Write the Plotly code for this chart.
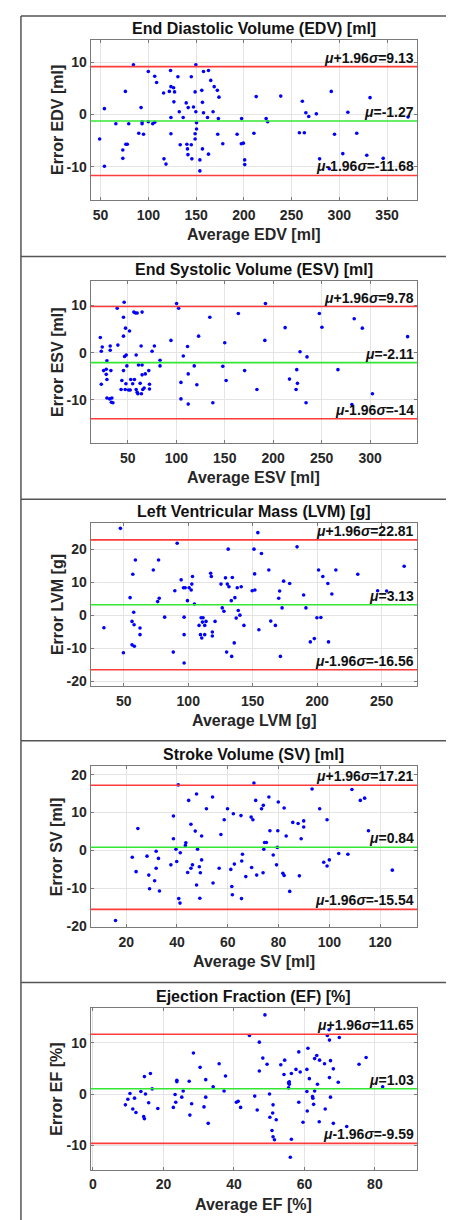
import plotly.graph_objects as go

W, H = 454, 1220

# ---------------- data ----------------
panel_titles = ["End Diastolic Volume (EDV) [ml]", "End Systolic Volume (ESV) [ml]",
                "Left Ventricular Mass (LVM) [g]", "Stroke Volume (SV) [ml]",
                "Ejection Fraction (EF) [%]"]
x_titles = ["Average EDV [ml]", "Average ESV [ml]", "Average LVM [g]", "Average SV [ml]", "Average EF [%]"]
y_titles = ["Error EDV [ml]", "Error ESV [ml]", "Error LVM [g]", "Error SV [ml]", "Error EF [%]"]

edv_avg = [49, 54, 54, 66, 73.3, 73.3, 76, 76.5, 78, 79.5, 84.4, 90, 92.4, 93.5, 93.5, 95, 100, 100,
           104.6, 106.7, 106.7, 108.7, 116, 116.4, 118.5, 122, 123.3, 123.7, 123.7, 123.7, 126.5, 127.5,
           126.8, 131, 132.4, 133.4, 136.5, 139.7, 140.4, 141.8, 141, 141.5, 145, 145, 145.6, 147.3, 149,
           149, 149, 149.8, 149.8, 150.5, 150.5, 154, 154, 156, 156.7, 156.7, 157.8, 157.8, 162, 163, 163,
           165.4, 167.8, 169, 172.3, 172.7, 173.4, 174, 178, 193, 197.4, 199.5, 197.7, 200.9, 201, 210.6,
           213, 223.4, 225, 238.7, 258.2, 263.4, 261.3, 265, 268, 276, 279.4, 289.5, 291.6, 295, 303.7,
           309, 318.3, 328.8, 332.2, 346, 372]
edv_err = [-4.7, 1.1, -9.9, -1.8, -6.8, -8.4, 4.4, -5.7, -5.7, -1.8, 9.5, -3.6, 1.3, -1.4, -1.8, -3.8, 8.2, -1.4,
           -1.8, -1.5, 7.3, 6.1, 4.1, -8.5, -9.5, 4.4, 8.4, 5.3, -0.6, -3.7, 5.1, 4.3,
           2.4, 7.2, 0.5, -5.8, -0.6, 2.2, -5.7, 1.3, -6.6, -7.7, 7.2, -5.8, -8.5, 1.4, 4.3,
           -4.7, -3.7, 9.5, 0.5, -1.6, -2.8, -10.8, -8.7, 4.6, 2.3, -6.6, 8.2, 0.3, -0.6, -7.6, 8.4,
           6.5, 0.5, 5.3, 4.6, -3.8, -0.8, 3.3, -5.6, -3.8, -5.6, -5.5, -0.8, -8.7, -9.6, -3.6,
           3.4, -0.8, -1.4, 3.5, -3.5, -3.5, 2.5, 0.3, -0.4, 0.1, -8.5, -10.4, 4.4, -3.8, -7.5,
           0.4, -3.6, -7.8, 3.2, -8.4, -0.5]
edv_limits = [9.13, -1.27, -11.68]

esv_avg = [21.6, 22.6, 23.6, 22.6, 25, 27.7, 27.7, 28.4, 28.4, 28.4, 31.2, 31.8, 31.8, 32.5, 33, 34.6, 33.5,
           39, 39.7, 43, 43.8, 45.5, 45.5, 45.5, 46.2, 46.6, 48.3, 47.3, 48, 47.6, 49, 51.7, 50.7, 52.4, 53,
           55, 56.2, 57.9, 59.6, 56.8, 58.6, 58.6, 59.6, 60.3, 61, 62.7, 63.7, 64, 64.7, 64.7, 64.7, 65.4,
           66.8, 68, 71.6, 72.3, 72.3, 75, 77.4, 83.2, 83.2, 94.5, 100.3, 102.4, 104.8, 104.8, 107.2, 111.6,
           112.3, 112.3, 118.5, 121.2, 123, 134.6, 137.7, 148, 150, 151.4, 164, 170.5, 183.2, 191.4, 192,
           212.3, 216.8, 223.6, 224.3, 225, 227.7, 233.9, 234.9, 247.6, 250.3, 266.8, 281.2, 283.6, 292,
           302.4, 338.7]
esv_err = [3.2, 0.3, 1.2, -6.7, -3.8, -3.5, -4.6, -5.7, -1.7, -9.6, -9.8, 1.4, 0.5, -3.8, -10.5, -10.6, -9.6,
           9.4, 1.6, -7.8, -5.9, 7.5, 3.5, -3.8, 10.7, -0.8, -0.5, -7.8, -6.6, 5.2, -2.8, 4.6, -7.9, -7.9, -5.7,
           -6.6, 8.6, 8.4, 8.4, -5.7, -0.5, -7.8, -8.4, -8.7, -2.6, -6.5, 1.4, -8.7, 8.6, -2.6, -4.7, -7.8,
           -7.5, -4.5, -3.8, -6.7, -7.7, 0.3, 1.4, -1.6, -2.8, 2.6, 10.4, 9.4, -6.3, -9.8, -0.7, 1.3,
           -4.5, -10.9, -2.8, -6.8, 3.5, 7.5, -10.6, -2.9, 2.1, -5.9, 8.3, -3.8, -7.8, 2.6, 10.4,
           5.3, -5.6, -7.8, -3.6, -6.5, 0.2, -10.6, -0.9, 8.3, 5.4, -3.6, -11, 7.2, 5.2,
           -8.7, 3.4]
esv_limits = [9.78, -2.11, -14]

lvm_avg = [34.6, 47.4, 49.7, 54.9, 56.4, 58.2, 58, 56.4, 57, 57.7, 59, 62.6, 62.6, 72.9, 76.3, 77.5, 77, 81.7,
           88.4, 89.6, 91.4, 94.5, 96.3, 97.6, 96.8, 96.8, 96.8, 99.4, 100.7, 102.3, 102.8, 103.3, 104.8,
           108.4, 109.5, 110.5, 110, 111.5, 111, 112.8, 112.8, 113.8, 117.4, 117.9, 118.7, 118.7, 120.8,
           125.4, 126.4, 127.7, 128.9, 129.8, 130.3, 131.6, 131, 133.4, 133.7, 134.2, 135.7, 136.2, 137.2,
           138, 138.8, 140.1, 141.1, 143.2, 149.6, 151, 151.5, 151.7, 154, 154.8, 156.8, 162.5, 164, 167.6,
           170.2, 170.9, 171.5, 172.8, 174, 178.7, 184.4, 189.5, 191.3, 194.7, 197.8, 199.8, 201.1, 202.9,
           204.4, 208.3, 208.8, 211.4, 214.5, 231.5, 246.9, 253.9, 267.5]
lvm_err = [-3.8, 26.3, -11.4, 5.3, -9, -9.4, -2.9, -1.9, 12.4, 0.9, 16.7, -3.9, -5.9, 13.7, 4.1, 5.1, 16.7, -0.6,
           -11.2, 7.4, 21.8, 10.7, 8.3, 8.3, -0.6, -5.9, -14.5, 4.4, 8.3, 7.6, 9.4, 11.7, 3.4,
           -3.1, -5.9, -6.9, -0.8, -0.8, -2.1, -3.1, -5.9, -1.9, 12.7, 11.7, -5.1, -6.3, -1.9,
           9.4, 2.2, 1.2, 11.3, -11.2, 9.4, 8.6, 20, 4.4, -12.5, 11.4, -8.4, 5.3, -0.9,
           8.3, 1.4, 0, 8.6, -3.1, 7.4, 20, 12.5, 7.6, 25, -4.4, 18.7, 13.7, -1.8, -3.1,
           5.1, 7.3, -12.5, 2.2, 10.3, 9.6, 20.7, 6.1, 2.2, -8.1, -7.1, -0.8, 13.7, -0.7,
           11.7, 9.6, -8.1, 6.4, 13.7, 12.4, 7.4, 7.3, 14.8]
lvm_limits = [22.81, 3.13, -16.56]

sv_avg = [15.8, 22.4, 23.9, 24.6, 28.2, 28.9, 29.2, 31.2, 31.8, 31.8, 32.7, 33.1, 37.6, 38.6, 38.6, 39.6, 39.9,
          40.5, 40.7, 41.2, 41.3, 43.3, 43.5, 44.2, 44.6, 45.5, 45.5, 46.1, 47.2, 47.7, 47.7, 48.1, 48.8, 49,
          49.2, 49.7, 49.7, 51.6, 54, 54.2, 56.6, 57.3, 58.6, 59.9, 61.2, 61.6, 61.8, 62.2, 62.6, 65.2, 65.4,
          65.5, 65.8, 67.1, 69.2, 69.9, 69.4, 70.3, 71, 71.4, 73.3, 74, 73.9, 74.2, 74.5, 75.2, 76.2, 76.6,
          77.9, 79.2, 79.5, 79.7, 79.9, 81.7, 82.2, 82.2, 83, 84.4, 85.6, 87.7, 88.2, 88.9, 89.9, 89.9, 93.2,
          96.2, 97.8, 99.1, 99.1, 100, 103.7, 107.3, 108.9, 112.2, 113.9, 115.4, 124.8]
sv_err = [-18.5, -1.8, -5.6, 5.8, -1.5, -6.5, -10.1, -8, -0.2, -4.7, -2.1, -10.7, -3.8, 9.1, 3.1, 0.3, -2.9,
          17.3, -12.7, -13.9, -0.6, 1.3, 2, -5.8, 13.2, 6.9, -4.7, -3.8, 5.1, 14.9, -9.1, 0.3, -4.3, -12.6,
          -5.9, 3.8, -2.5, 11, 14.1, -8.6, -4.7, 4.2, 8.1, 11, -5, -9.5, -11.7, 9.7, -3.6, 9.2, -12.7,
          -2.8, -1, -6.9, 8.8, 8.1, -4.5, 17.8, 13.2, -6.5, 11, 11.9, -5.9, 0.3, 2.1, 2.1, 14.1, 5.2,
          -1.2, -3.8, 0.8, 5.2, 12.8, -6, -6.6, 11.2, 3.8, -10.8, 7.4, 7.1, -6.7, 3.1, 7.8, 6.2, 16.2,
          11, -3.1, 8.1, -4.1, -2.5, -0.8, -1, 16.1, 13.2, 13.8, 5.2, -5.2]
sv_limits = [17.21, 0.84, -15.54]

ef_avg = [9.2, 9.9, 10.5, 11.3, 11.8, 12.2, 13.6, 14.4, 14.6, 14.6, 14.9, 15.8, 16.3, 16.8, 18.4, 22.8, 23.3,
          23.5, 23.8, 23.8, 25.2, 25.6, 27.3, 27.5, 28, 28.5, 30.4, 31.5, 32, 32, 32.7, 34.1, 35.8, 37.2, 37.6,
          40.7, 41.2, 41.9, 44.4, 45.9, 46.6, 47.2, 47.2, 48.2, 48.8, 49.4, 50.1, 50.2, 50.8, 51.1, 51.5, 51,
          51.1, 52, 53.3, 54.4, 54.2, 55.5, 55.7, 55.5, 55.7, 56.3, 56.3, 56, 57.6, 58.4, 58.4, 58.8, 59.6,
          60.7, 60.7, 60.8, 61, 61.4, 62.3, 62.4, 62.6, 62.9, 62.9, 63.5, 63.7, 64.2, 64.3, 65.7, 65.9, 66.5,
          67, 67.1, 67.1, 67.4, 67.4, 68.2, 68.2, 69.6, 69.9, 72, 75.5, 77.5, 82.2]
ef_err = [-2.1, -1, 0.1, -2.9, -0.8, -3.6, 0.5, -4.4, -4.8, 3.4, 0, -1.7, 4, 1, -2.8, -2.6, -0.1,
          -1.6, 2.7, 2.4, -0.6, 0.6, 2.5, -4.1, -1.9, 8, 5.2, -2.5, 2.8, -0.6, -5.7, 1.4, 5.9, 0.6, 3.5,
          -1.6, -1.4, -2.6, 11.4, -0.4, -3.1, 10.1, 4.5, 7, 15.4, 5.8, 0, -4.5, -7.1, -8.3, -8.9, -3.7,
          -2.1, -5, 5.7, 6.6, 3.8, 2.2, 1.9, 1.2, 2.4, 4, -8.8, -12.3, 4.8, 8.2, -1.6, 4.3, -5.5,
          4.8, 0.5, -3.3, 8.9, 3, -0.5, -0.8, -2, 0.6, 6.9, 7.5, 1.9, -5.4, 6.6, 5.9, -2.9, 11.4,
          12.5, 10.5, 3.2, 6.5, -0.6, -5.7, 4.9, 2.3, 11, -6.3, 5.8, 7.1, 1.4]
ef_limits = [11.65, 1.03, -9.59]

x_ticks = [[50, 100, 150, 200, 250, 300, 350], [50, 100, 150, 200, 250, 300],
           [50, 100, 150, 200, 250], [20, 40, 60, 80, 100, 120], [0, 20, 40, 60, 80]]
y_ticks = [[-10, 0, 10], [-10, 0, 10], [-20, -10, 0, 10, 20], [-20, -10, 0, 10, 20], [-10, 0, 10]]

avgs = [edv_avg, esv_avg, lvm_avg, sv_avg, ef_avg]
errs = [edv_err, esv_err, lvm_err, sv_err, ef_err]
limits = [edv_limits, esv_limits, lvm_limits, sv_limits, ef_limits]

# ---------------- layout geometry (pixels) ----------------
x_ranges = [[39.6, 381.6], [11.6, 348.6], [24.3, 277.6], [6, 134.6], [-0.66, 92]]
y_ranges = [[-16.4, 14.2], [-19.1, 15.1], [-21.4, 28.0], [-20.2, 22.3], [-14.7, 16.7]]
plot_tops = [32.3, 275, 517.7, 762.3, 1006]
plot_bots = [193.3, 437.3, 681.7, 924.3, 1168.3]
plot_left, plot_right = 81, 409
frame_lines = [8, 250, 494, 737, 980]


def py(px):
    return 1 - px / H


FONT = "Liberation Sans, Arial, Helvetica, sans-serif"
AX_COLOR = "#7a7a7a"
GRID = "#e4e4e4"

fig = go.Figure()
annotations = []
shapes = []
layout_axes = {}

for i in range(5):
    n = i + 1
    xa = "x" if n == 1 else f"x{n}"
    ya = "y" if n == 1 else f"y{n}"
    xkey = "xaxis" if n == 1 else f"xaxis{n}"
    ykey = "yaxis" if n == 1 else f"yaxis{n}"

    fig.add_trace(go.Scatter(
        x=avgs[i], y=errs[i], mode="markers", xaxis=xa, yaxis=ya,
        marker=dict(color="#0000ff", size=3.6, line=dict(width=0)),
        showlegend=False, hoverinfo="x+y"))

    layout_axes[xkey] = dict(
        domain=[plot_left / W, plot_right / W], anchor=ya, range=x_ranges[i],
        tickvals=x_ticks[i], ticktext=[str(v) for v in x_ticks[i]],
        ticks="inside", ticklen=3, tickcolor=AX_COLOR,
        showline=True, linecolor=AX_COLOR, linewidth=1, mirror="ticks",
        showgrid=True, gridcolor=GRID, zeroline=False,
        tickfont=dict(family=FONT, size=14, color="#262626", weight="bold"),
        ticklabelstandoff=2)
    layout_axes[ykey] = dict(
        domain=[py(plot_bots[i]), py(plot_tops[i])], anchor=xa, range=y_ranges[i],
        tickvals=y_ticks[i], ticktext=[str(v) for v in y_ticks[i]],
        ticks="inside", ticklen=3, tickcolor=AX_COLOR,
        showline=True, linecolor=AX_COLOR, linewidth=1, mirror="ticks",
        showgrid=True, gridcolor=GRID, zeroline=False,
        tickfont=dict(family=FONT, size=14, color="#262626", weight="bold"))

    # limit lines: upper, mean, lower
    colors = ["#ff3c3c", "#33e833", "#ff3c3c"]
    labels = ["<i>μ</i>+1.96<i>σ</i>=", "<i>μ</i>=", "<i>μ</i>-1.96<i>σ</i>="]
    for k in range(3):
        v = limits[i][k]
        shapes.append(dict(type="line", xref=f"{xa} domain", yref=ya, x0=0, x1=1, y0=v, y1=v,
                           line=dict(color=colors[k], width=1.6), layer="above"))
        annotations.append(dict(
            xref=f"{xa} domain", yref=ya, x=1, y=v, xanchor="right", yanchor="bottom",
            xshift=-1, yshift=-1, showarrow=False,
            text=f"<b>{labels[k]}{v:g}</b>",
            font=dict(family=FONT, size=14, color="#111111")))

    # panel title
    annotations.append(dict(
        xref="paper", yref="paper", x=(plot_left + plot_right) / 2 / W, y=py(plot_tops[i]),
        xanchor="center", yanchor="bottom", yshift=1, showarrow=False,
        text=f"<b>{panel_titles[i]}</b>", font=dict(family=FONT, size=16, color="#111111")))
    # x axis title
    annotations.append(dict(
        xref="paper", yref="paper", x=(plot_left + plot_right) / 2 / W, y=py(plot_bots[i] + 35),
        xanchor="center", yanchor="middle", showarrow=False,
        text=f"<b>{x_titles[i]}</b>", font=dict(family=FONT, size=16, color="#262626")))
    # y axis title
    annotations.append(dict(
        xref="paper", yref="paper", x=47 / W, y=py((plot_tops[i] + plot_bots[i]) / 2),
        xanchor="center", yanchor="middle", textangle=-90, showarrow=False,
        text=f"<b>{y_titles[i]}</b>", font=dict(family=FONT, size=16, color="#262626")))

# outer frame lines
shapes.append(dict(type="line", xref="paper", yref="paper", x0=11 / W, x1=11 / W, y0=py(frame_lines[0]), y1=0,
                   line=dict(color="#555555", width=1.5)))
for fy in frame_lines:
    shapes.append(dict(type="line", xref="paper", yref="paper", x0=11 / W, x1=1, y0=py(fy), y1=py(fy),
                       line=dict(color="#555555", width=1.5)))

fig.update_layout(
    width=W, height=H, margin=dict(l=0, r=0, t=0, b=0),
    paper_bgcolor="white", plot_bgcolor="white",
    annotations=annotations, shapes=shapes, showlegend=False,
    **layout_axes)

fig.write_html("out.html")
